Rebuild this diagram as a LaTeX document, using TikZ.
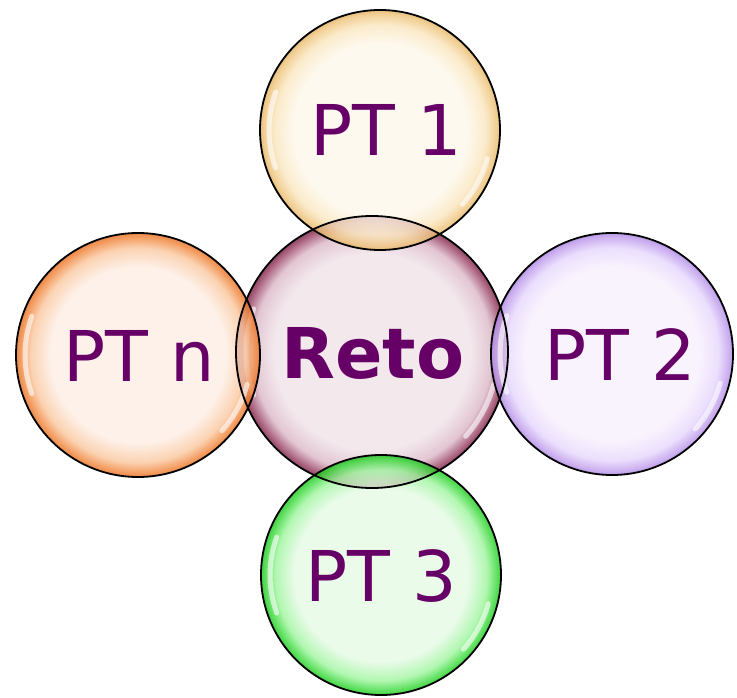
\documentclass[tikz,border=0pt]{standalone}
\usepackage{fontspec}
\setmainfont{DejaVu Sans}
\pgfdeclareradialshading{bubReto}{\pgfpoint{0bp}{0bp}}{rgb(0bp)=(0.94,0.89,0.91); rgb(18bp)=(0.94,0.89,0.91); rgb(22bp)=(0.86,0.72,0.78); rgb(24.3bp)=(0.58,0.22,0.36); rgb(25bp)=(0.45,0.10,0.25); rgb(50bp)=(0.45,0.10,0.25)}
\pgfdeclareradialshading{bubA}{\pgfpoint{0bp}{0bp}}{rgb(0bp)=(0.99,0.97,0.92); rgb(18bp)=(0.99,0.97,0.92); rgb(22bp)=(0.98,0.90,0.74); rgb(24.3bp)=(0.93,0.76,0.47); rgb(25bp)=(0.88,0.68,0.36); rgb(50bp)=(0.88,0.68,0.36)}
\pgfdeclareradialshading{bubN}{\pgfpoint{0bp}{0bp}}{rgb(0bp)=(0.99,0.93,0.89); rgb(18bp)=(0.99,0.93,0.89); rgb(22bp)=(0.98,0.78,0.62); rgb(24.3bp)=(0.94,0.50,0.20); rgb(25bp)=(0.90,0.42,0.12); rgb(50bp)=(0.90,0.42,0.12)}
\pgfdeclareradialshading{bubB}{\pgfpoint{0bp}{0bp}}{rgb(0bp)=(0.97,0.94,0.99); rgb(18bp)=(0.97,0.94,0.99); rgb(22bp)=(0.90,0.84,0.99); rgb(24.3bp)=(0.74,0.60,0.92); rgb(25bp)=(0.66,0.50,0.88); rgb(50bp)=(0.66,0.50,0.88)}
\pgfdeclareradialshading{bubC}{\pgfpoint{0bp}{0bp}}{rgb(0bp)=(0.90,0.98,0.90); rgb(18bp)=(0.90,0.98,0.90); rgb(22bp)=(0.62,0.96,0.62); rgb(24.3bp)=(0.18,0.84,0.18); rgb(25bp)=(0.10,0.75,0.10); rgb(50bp)=(0.10,0.75,0.10)}
\definecolor{txt}{RGB}{102,0,102}
\tikzset{
  bubble/.style={circle, inner sep=0pt, fill opacity=0.8},
  rim/.style={draw=black, line width=1.8pt},
  lbl/.style={text=txt, inner sep=0pt, font=\fontsize{70}{80}\selectfont},
  shine/.style={white, line width=5pt, opacity=0.6, line cap=round}
}
\newcommand{\shinearcs}[2]{%
  \draw[shine] (#1.center) ++(160:#2) arc[start angle=160, end angle=200, radius=#2];
  \draw[shine] (#1.center) ++(-15:#2) arc[start angle=-15, end angle=-42, radius=#2];}
\begin{document}
\begin{tikzpicture}[x=1pt,y=1pt]
\useasboundingbox (0,0) rectangle (737,697);
\node[bubble, shading=bubReto, minimum size=272pt] (reto) at (372,345) {};
\shinearcs{reto}{126}
\node[bubble, shading=bubA, minimum size=240pt] (pt1) at (380,567) {};
\shinearcs{pt1}{111}
\node[bubble, shading=bubN, minimum size=244pt] (ptn) at (138,342) {};
\shinearcs{ptn}{113}
\node[bubble, shading=bubB, minimum size=242pt] (pt2) at (612,343) {};
\shinearcs{pt2}{112}
\node[bubble, shading=bubC, minimum size=240pt] (pt3) at (381,122) {};
\shinearcs{pt3}{111}
\draw[rim] (reto) circle[radius=136pt];
\draw[rim] (pt1) circle[radius=120pt];
\draw[rim] (ptn) circle[radius=122pt];
\draw[rim] (pt2) circle[radius=121pt];
\draw[rim] (pt3) circle[radius=120pt];
\node[lbl, font=\fontsize{70}{80}\selectfont\bfseries] (retoT) at ([xshift=1pt,yshift=-1pt]reto.center) {Reto};
\node[lbl] (pt1T) at ([xshift=6pt,yshift=0pt]pt1.center) {PT 1};
\node[lbl] (ptnT) at ([xshift=1pt,yshift=-1pt]ptn.center) {PT n};
\node[lbl] (pt2T) at ([xshift=8pt,yshift=-1pt]pt2.center) {PT 2};
\node[lbl] (pt3T) at ([xshift=0pt,yshift=-1pt]pt3.center) {PT 3};
\end{tikzpicture}
\end{document}
